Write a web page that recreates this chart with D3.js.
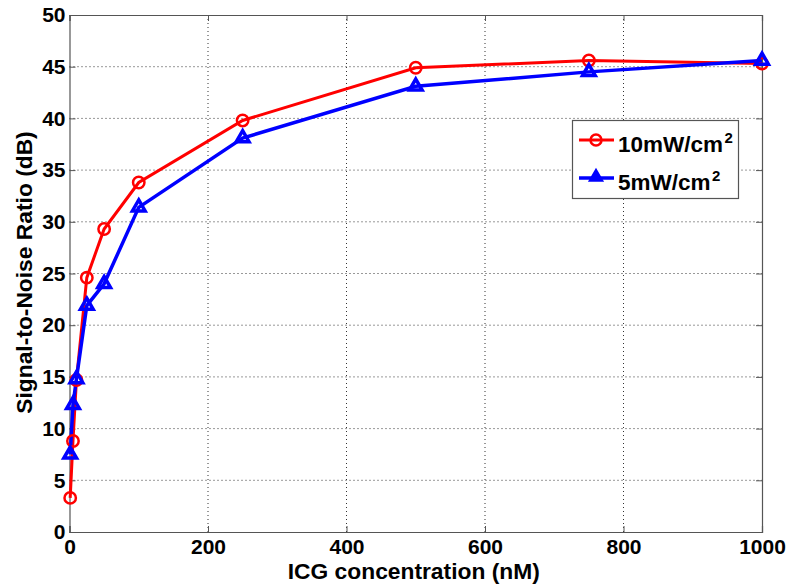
<!DOCTYPE html>
<html><head><meta charset="utf-8">
<script src="https://cdn.jsdelivr.net/npm/d3@7"></script>
<style>body{margin:0;background:#fff}svg{display:block}</style>
</head><body>
<svg id="c" width="788" height="586"></svg>
<script>
const concentrations = [1, 5, 10, 25, 50, 100, 250, 500, 750, 1000];
const snr10 = [3.3, 8.8, 14.7, 24.6, 29.3, 33.8, 39.8, 44.9, 45.6, 45.3];
const snr5 = [7.5, 12.3, 14.8, 21.9, 24.0, 31.4, 38.1, 43.1, 44.5, 45.6];
const xTicks = [0, 200, 400, 600, 800, 1000];
const yTicks = [0, 5, 10, 15, 20, 25, 30, 35, 40, 45, 50];
const seriesNames = ["10mW/cm", "5mW/cm"];

const svg = d3.select("#c");
const L = 69.5, R = 762, T = 15, B = 532;
const x = d3.scaleLinear().domain([0, 1000]).range([L, R]);
const y = d3.scaleLinear().domain([0, 50]).range([B, T]);
const font = "'Liberation Sans', Arial, sans-serif";

// grid
const g = svg.append("g");
g.selectAll(".gx").data(xTicks.slice(1, -1)).join("line")
  .attr("x1", d => x(d)).attr("x2", d => x(d)).attr("y1", T).attr("y2", B)
  .attr("stroke", "#333").attr("stroke-width", 1).attr("stroke-dasharray", "1,3");
g.selectAll(".gy").data(yTicks.slice(1, -1)).join("line")
  .attr("y1", d => y(d)).attr("y2", d => y(d)).attr("x1", L).attr("x2", R)
  .attr("stroke", "#333").attr("stroke-width", 1).attr("stroke-dasharray", "1,3");

// axes
const xAxis = d3.axisBottom(x).tickValues(xTicks).tickSize(-6).tickPadding(7).tickFormat(d3.format("d"));
const yAxis = d3.axisLeft(y).tickValues(yTicks).tickSize(-6).tickPadding(4).tickFormat(d3.format("d"));
const xa = svg.append("g").attr("transform", `translate(0,${B})`).call(xAxis);
const ya = svg.append("g").attr("transform", `translate(${L},0)`).call(yAxis);
const xTop = svg.append("g").attr("transform", `translate(0,${T})`).call(d3.axisTop(x).tickValues(xTicks).tickSize(-6).tickFormat(""));
const yRight = svg.append("g").attr("transform", `translate(${R},0)`).call(d3.axisRight(y).tickValues(yTicks).tickSize(-6).tickFormat(""));
[xa, ya, xTop, yRight].forEach(a => {
  a.selectAll("path.domain").attr("stroke", "#555").attr("stroke-width", 1.2);
  a.selectAll(".tick line").attr("stroke", "#555");
  a.selectAll("text").attr("font-family", font).attr("font-weight", "bold").attr("font-size", 21).attr("fill", "#000");
});

// lines
const line = d3.line().x((d, i) => x(concentrations[i])).y(d => y(d));
svg.append("path").datum(snr10).attr("d", line).attr("fill", "none").attr("stroke", "#ff0000").attr("stroke-width", 3);
svg.append("path").datum(snr5).attr("d", line).attr("fill", "none").attr("stroke", "#0000ff").attr("stroke-width", 3.5);

const tri = d3.symbol().type(d3.symbolTriangle).size(70);
svg.selectAll(".m10").data(snr10).join("circle")
  .attr("cx", (d, i) => x(concentrations[i])).attr("cy", d => y(d)).attr("r", 5.7)
  .attr("fill", "none").attr("stroke", "#ff0000").attr("stroke-width", 2.5);
svg.selectAll(".m5").data(snr5).join("path")
  .attr("d", tri).attr("transform", (d, i) => `translate(${x(concentrations[i])},${y(d)})`)
  .attr("fill", "none").attr("stroke", "#0000ff").attr("stroke-width", 3.5);

// legend
const lg = svg.append("g");
lg.append("rect").attr("x", 572.5).attr("y", 120.5).attr("width", 166).attr("height", 78)
  .attr("fill", "#fff").attr("stroke", "#555").attr("stroke-width", 1.2);
const items = [{c: "#ff0000", y: 140, t: seriesNames[0]}, {c: "#0000ff", y: 178, t: seriesNames[1]}];
items.forEach((it, i) => {
  lg.append("line").attr("x1", 579).attr("x2", 614).attr("y1", it.y).attr("y2", it.y)
    .attr("stroke", it.c).attr("stroke-width", i ? 3.5 : 3);
  if (i === 0) lg.append("circle").attr("cx", 596).attr("cy", it.y).attr("r", 5.5).attr("fill", "none").attr("stroke", it.c).attr("stroke-width", 2.5);
  else lg.append("path").attr("d", tri).attr("transform", `translate(596,${it.y - 1})`).attr("fill", it.c).attr("stroke", it.c).attr("stroke-width", 2);
  const t = lg.append("text").attr("x", 618).attr("y", it.y + 12).attr("font-family", font).attr("font-weight", "bold").attr("font-size", 22.5).attr("fill", "#000");
  t.append("tspan").text(it.t);
  t.append("tspan").text("2").attr("font-size", 15).attr("dy", -9.5).attr("dx", 1.5);
});

// axis labels
svg.append("text").attr("x", (L + R) / 2 - 2).attr("y", 579).attr("text-anchor", "middle")
  .attr("font-family", font).attr("font-weight", "bold").attr("font-size", 22.8).text("ICG concentration (nM)");
svg.append("text").attr("transform", `translate(32,${(T + B) / 2 - 1}) rotate(-90)`).attr("text-anchor", "middle")
  .attr("font-family", font).attr("font-weight", "bold").attr("font-size", 22.8).text("Signal-to-Noise Ratio (dB)");
</script>
</body></html>
